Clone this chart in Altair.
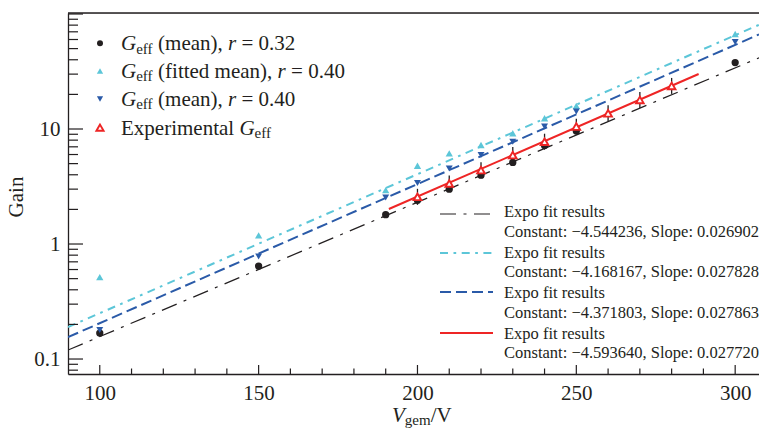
import altair as alt
import pandas as pd

# ---------------- data ----------------
v_mean032 = [100, 150, 190, 200, 210, 220, 230, 240, 250, 300]
g_mean032 = [0.168, 0.643, 1.80, 2.40, 3.00, 3.97, 5.12, 7.2, 9.6, 37.8]

v_fit040 = [100, 150, 190, 200, 210, 220, 230, 240, 250, 300]
g_fit040 = [0.515, 1.19, 2.94, 4.79, 6.14, 7.26, 9.18, 12.4, 15.9, 67.0]

v_mean040 = [100, 150, 190, 200, 210, 220, 230, 240, 250, 300]
g_mean040 = [0.179, 0.78, 2.54, 3.40, 4.54, 5.93, 7.75, 10.5, 14.2, 57.0]

v_exp = [200, 210, 220, 230, 240, 250, 260, 270, 280]
g_exp = [2.57, 3.36, 4.39, 5.93, 7.75, 10.5, 13.7, 17.9, 23.7]
g_exp_hi = [3.02, 3.94, 5.15, 6.96, 9.10, 12.3, 16.1, 21.0, 27.8]
g_exp_lo = [2.19, 2.86, 3.74, 5.05, 6.60, 8.94, 11.7, 15.2, 20.2]

fit_names = ["black", "cyan", "blue", "red"]
fit_const = [-4.544236, -4.168167, -4.371803, -4.593640]
fit_slope = [0.026902, 0.027828, 0.027863, 0.027720]
fit_vmin = [90, 90, 90, 191]
fit_vmax = [307.5, 307.5, 307.5, 288.5]

x_tick_labels = [100, 150, 200, 250, 300]
y_tick_labels = [0.1, 1, 10]
y_major_ticks = [0.1, 1, 10, 100]
y_minor_ticks = [0.08, 0.09, 0.2, 0.3, 0.4, 0.5, 0.6, 0.7, 0.8, 0.9,
                 2, 3, 4, 5, 6, 7, 8, 9, 20, 30, 40, 50, 60, 70, 80, 90]
x_major_ticks = [100, 150, 200, 250, 300]
x_minor_ticks = [110, 120, 130, 140, 160, 170, 180, 190, 210, 220, 230, 240,
                 260, 270, 280, 290]

fit_texts = ["Constant: \u22124.544236, Slope: 0.026902",
             "Constant: \u22124.168167, Slope: 0.027828",
             "Constant: \u22124.371803, Slope: 0.027863",
             "Constant: \u22124.593640, Slope: 0.027720"]

# ---------------- style ----------------
FONT = "Liberation Serif"
BLACK = "#231f20"
CYAN = "#5cc6d8"
BLUE = "#2a5aa8"
RED = "#ee2525"
PAD_L, PAD_T = 68, 13
W, H = 691, 361
LEG_FS = 21
SUB_FS = 15

XS = alt.Scale(domain=[90, 307.5], nice=False, zero=False)
YS = alt.Scale(type="log", domain=[0.0741, 102], nice=False)
x_axis = alt.Axis(values=x_tick_labels, ticks=False, grid=False, title=None,
                  labelFont=FONT, labelFontSize=21, labelPadding=8,
                  labelColor=BLACK, domainColor=BLACK, domainWidth=1.3,
                  labelFlush=False)
y_axis = alt.Axis(values=y_tick_labels, format="~g", ticks=False, grid=False,
                  title=None, labelFont=FONT, labelFontSize=21, labelPadding=8,
                  labelColor=BLACK, domainColor=BLACK, domainWidth=1.3,
                  labelFlush=False)


def X(f):
    return alt.X(f, scale=XS, axis=x_axis)


def Y(f):
    return alt.Y(f, scale=YS, axis=y_axis)


layers = []

# fit lines
fit_rows = []
for n, c, s, a, b in zip(fit_names, fit_const, fit_slope, fit_vmin, fit_vmax):
    fit_rows.append({"fit": n, "v": a, "c": c, "s": s})
    fit_rows.append({"fit": n, "v": b, "c": c, "s": s})
fit_df = pd.DataFrame(fit_rows)
fit_style = {
    "black": dict(color=BLACK, strokeWidth=1.2, strokeDash=[16, 7.5, 3, 7.5]),
    "cyan": dict(color=CYAN, strokeWidth=2, strokeDash=[8, 5.5, 2.7, 5.5]),
    "blue": dict(color=BLUE, strokeWidth=2, strokeDash=[11, 5]),
    "red": dict(color=RED, strokeWidth=2),
}
for n in fit_names:
    layers.append(
        alt.Chart(fit_df)
        .transform_filter(alt.datum.fit == n)
        .transform_calculate(g="exp(datum.c + datum.s * datum.v)")
        .mark_line(clip=True, **fit_style[n])
        .encode(x=X("v:Q"), y=Y("g:Q"), order="v:Q")
    )

# ticks (inward)
yt_major = pd.DataFrame({"t": y_major_ticks})
yt_minor = pd.DataFrame({"t": y_minor_ticks})
xt_major = pd.DataFrame({"t": x_major_ticks})
xt_minor = pd.DataFrame({"t": x_minor_ticks})
layers.append(alt.Chart(yt_major).mark_rule(color=BLACK, strokeWidth=1.2, clip=True)
              .encode(y=Y("t:Q"), x=alt.value(0), x2=alt.value(15)))
layers.append(alt.Chart(yt_minor).mark_rule(color=BLACK, strokeWidth=1.2, clip=True)
              .encode(y=Y("t:Q"), x=alt.value(0), x2=alt.value(10)))
layers.append(alt.Chart(xt_major).mark_rule(color=BLACK, strokeWidth=1.2)
              .encode(x=X("t:Q"), y=alt.value(H), y2=alt.value(H - 9)))
layers.append(alt.Chart(xt_minor).mark_rule(color=BLACK, strokeWidth=1.2)
              .encode(x=X("t:Q"), y=alt.value(H), y2=alt.value(H - 5.5)))
# top frame line
layers.append(alt.Chart(pd.DataFrame({"a": [0]})).mark_rule(color=BLACK, strokeWidth=1.3)
              .encode(x=alt.value(0), x2=alt.value(W), y=alt.value(0)))

# points
d032 = pd.DataFrame({"v": v_mean032, "g": g_mean032})
dfit = pd.DataFrame({"v": v_fit040, "g": g_fit040})
d040 = pd.DataFrame({"v": v_mean040, "g": g_mean040})
dexp = pd.DataFrame({"v": v_exp, "g": g_exp, "hi": g_exp_hi, "lo": g_exp_lo})

layers.append(alt.Chart(d032).mark_point(shape="circle", filled=True, color=BLACK,
                                         size=53, opacity=1)
              .encode(x=X("v:Q"), y=Y("g:Q")))
layers.append(alt.Chart(dfit).mark_point(shape="triangle-up", filled=True, color=CYAN,
                                         size=53, opacity=1)
              .encode(x=X("v:Q"), y=Y("g:Q")))
layers.append(alt.Chart(d040).mark_point(shape="triangle-down", filled=True, color=BLUE,
                                         size=48, opacity=1)
              .encode(x=X("v:Q"), y=Y("g:Q")))
layers.append(alt.Chart(dexp).mark_rule(color=BLACK, strokeWidth=1.3)
              .encode(x=X("v:Q"), y=Y("lo:Q"), y2="hi:Q"))
layers.append(alt.Chart(dexp).mark_point(shape="triangle-up", filled=True, fill="white",
                                         stroke=RED, strokeWidth=1.9, size=58, opacity=1)
              .encode(x=X("v:Q"), y=Y("g:Q")))

# ---------------- legends and titles (pixel placement) ----------------
W_REG = {" ": 250, "(": 333, ")": 333, ",": 250, ".": 250, "=": 564, ":": 278,
         "/": 278, "\u2212": 564, "a": 444, "b": 500, "c": 444, "d": 500, "e": 444,
         "f": 333, "g": 500, "h": 500, "i": 278, "l": 278, "m": 778, "n": 500,
         "o": 500, "p": 500, "r": 333, "s": 389, "t": 278, "u": 500, "x": 500,
         "E": 611, "C": 667, "S": 556, "V": 722, "G": 722}
W_IT = {"G": 722, "r": 389, "V": 611}


def tw(s, size, italic):
    t = W_IT if italic else W_REG
    return sum(t.get(ch, 500) for ch in s) * size / 1000.0


text_rows = []


def add_pieces(x0, base, pieces):
    x = x0
    for txt, italic, size, dy in pieces:
        lead = len(txt) - len(txt.lstrip(" "))
        x += tw(" " * lead, size, italic)
        core = txt.strip(" ")
        text_rows.append({"t": core, "px": x - PAD_L, "py": base + dy - PAD_T,
                          "fs": size, "it": italic})
        x += tw(core, size, italic)
        trail = len(txt) - len(txt.rstrip(" "))
        x += tw(" " * trail, size, italic)


leg1_labels = [
    [("G", True, LEG_FS, 0), ("eff", False, SUB_FS, 3.5), (" (mean), ", False, LEG_FS, 0),
     ("r", True, LEG_FS, 0), (" = 0.32", False, LEG_FS, 0)],
    [("G", True, LEG_FS, 0), ("eff", False, SUB_FS, 3.5), (" (fitted mean), ", False, LEG_FS, 0),
     ("r", True, LEG_FS, 0), (" = 0.40", False, LEG_FS, 0)],
    [("G", True, LEG_FS, 0), ("eff", False, SUB_FS, 3.5), (" (mean), ", False, LEG_FS, 0),
     ("r", True, LEG_FS, 0), (" = 0.40", False, LEG_FS, 0)],
    [("Experimental ", False, LEG_FS, 0), ("G", True, LEG_FS, 0), ("eff", False, SUB_FS, 3.5)],
]
leg1_y = [43.3, 71, 99, 127.7]
for yy, pcs in zip(leg1_y, leg1_labels):
    add_pieces(121, yy + 6.8, pcs)

# legend 2 text
leg2_base = [217, 257.5, 298, 338.5]
for yy, ct in zip(leg2_base, fit_texts):
    text_rows.append({"t": "Expo fit results", "px": 504 - PAD_L, "py": yy - PAD_T,
                      "fs": 16.5, "it": False})
    text_rows.append({"t": ct, "px": 504 - PAD_L, "py": yy + 19.5 - PAD_T,
                      "fs": 16.5, "it": False})

# x title
add_pieces(392, 421.5, [("V", True, 21, 0), ("gem", False, 15, 3.2), ("/V", False, 21, 0)])

tdf = pd.DataFrame(text_rows)
for italic in (False, True):
    layers.append(
        alt.Chart(tdf[tdf["it"] == italic])
        .mark_text(font=FONT, align="left", baseline="alphabetic", color=BLACK,
                   fontStyle="italic" if italic else "normal")
        .encode(x=alt.X("px:Q", scale=None), y=alt.Y("py:Q", scale=None),
                text="t:N", size=alt.Size("fs:Q", scale=None, legend=None))
    )

# y title
layers.append(
    alt.Chart(pd.DataFrame({"t": ["Gain"], "px": [23 - PAD_L], "py": [197 - PAD_T]}))
    .mark_text(font=FONT, fontSize=21, angle=270, align="center",
               baseline="alphabetic", color=BLACK)
    .encode(x=alt.X("px:Q", scale=None), y=alt.Y("py:Q", scale=None), text="t:N")
)

# legend 1 symbols
sym = pd.DataFrame({
    "px": [100 - PAD_L] * 4,
    "py": [y - PAD_T for y in leg1_y],
    "k": ["a", "b", "c", "d"],
})
sym_style = {
    "a": dict(shape="circle", filled=True, color=BLACK, size=36),
    "b": dict(shape="triangle-up", filled=True, color=CYAN, size=40),
    "c": dict(shape="triangle-down", filled=True, color=BLUE, size=38),
    "d": dict(shape="triangle-up", filled=True, fill="white", stroke=RED,
              strokeWidth=1.9, size=52),
}
for k in ["a", "b", "c", "d"]:
    layers.append(
        alt.Chart(sym[sym["k"] == k]).mark_point(opacity=1, **sym_style[k])
        .encode(x=alt.X("px:Q", scale=None), y=alt.Y("py:Q", scale=None))
    )

# legend 2 line samples
leg2_line_y = [214, 253, 292, 333]
for n, yy in zip(fit_names, leg2_line_y):
    st = dict(fit_style[n])
    col = st.pop("color")
    layers.append(
        alt.Chart(pd.DataFrame({"a": [0]})).mark_rule(color=col, **st)
        .encode(x=alt.value(440 - PAD_L), x2=alt.value(493 - PAD_L),
                y=alt.value(yy - PAD_T))
    )

chart = (
    alt.layer(*layers)
    .properties(width=W, height=H,
                autosize=alt.AutoSizeParams(type="none"),
                padding={"left": PAD_L, "top": PAD_T, "right": 0, "bottom": 55})
    .configure_view(stroke=None)
    .configure(background="white")
)

chart.save("out.html", embed_options={"renderer": "svg", "actions": False})
